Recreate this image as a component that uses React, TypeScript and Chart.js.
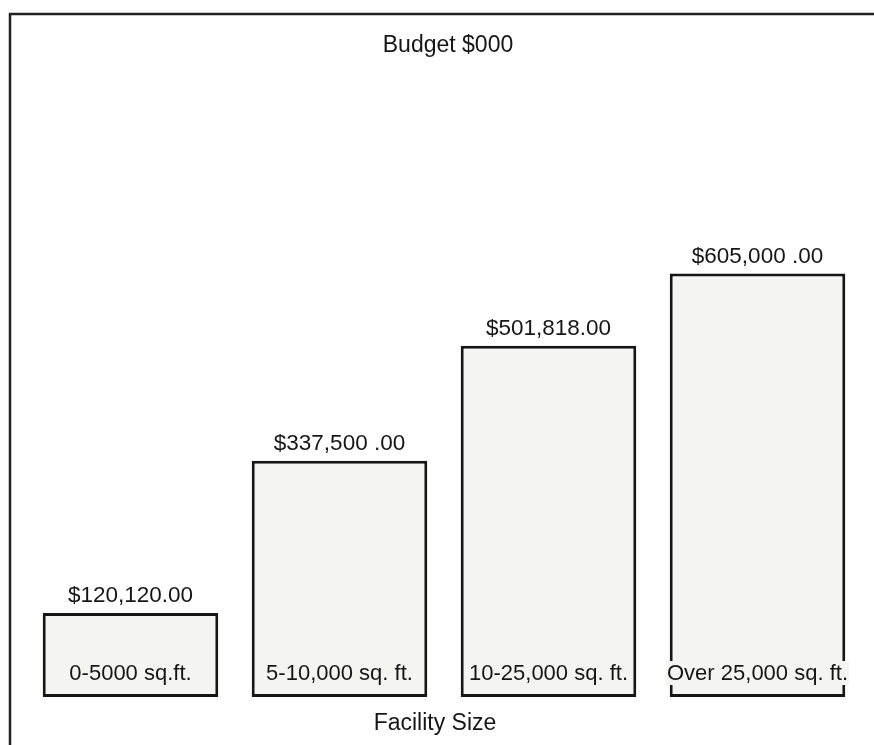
import React, { useEffect, useRef } from "react";
import { Chart, registerables } from "chart.js";

Chart.register(...registerables);

const categories = ["0-5000 sq.ft.", "5-10,000 sq. ft.", "10-25,000 sq. ft.", "Over 25,000 sq. ft."];
const budgetValues = [120120, 337500, 501818, 605000];
const valueLabels = ["$120,120.00", "$337,500 .00", "$501,818.00", "$605,000 .00"];
const chartTitle = "Budget $000";
const axisTitle = "Facility Size";

const FAMILY = '"Liberation Sans", Arial, sans-serif';
const BAR_FILL = "#f4f4f1";
const INK = "#161616";

const decorPlugin = {
  id: "decor",
  beforeDraw(chart: any) {
    const ctx = chart.ctx;
    ctx.save();
    ctx.fillStyle = "#ffffff";
    ctx.fillRect(0, 0, chart.width, chart.height);
    ctx.strokeStyle = "#222";
    ctx.lineWidth = 2.5;
    ctx.beginPath();
    ctx.moveTo(10, chart.height);
    ctx.lineTo(10, 14);
    ctx.lineTo(chart.width, 14);
    ctx.stroke();
    ctx.restore();
  },
  afterDatasetsDraw(chart: any) {
    const ctx = chart.ctx;
    const meta = chart.getDatasetMeta(0);
    ctx.save();
    ctx.fillStyle = INK;
    ctx.textAlign = "center";
    ctx.textBaseline = "alphabetic";
    meta.data.forEach((bar: any, i: number) => {
      ctx.font = `22.5px ${FAMILY}`;
      ctx.fillStyle = INK;
      ctx.fillText(valueLabels[i], bar.x, bar.y - 11);
      ctx.font = `22px ${FAMILY}`;
      const label = chart.data.labels[i];
      const w = ctx.measureText(label).width;
      const baseY = chart.chartArea.bottom - 17;
      ctx.fillStyle = BAR_FILL;
      ctx.fillRect(bar.x - w / 2 - 1, baseY - 19, w + 2, 24);
      ctx.fillStyle = INK;
      ctx.fillText(label, bar.x, baseY);
    });
    ctx.font = `23px ${FAMILY}`;
    ctx.fillText(chartTitle, 448, 52);
    ctx.fillText(axisTitle, 435, 730);
    ctx.restore();
  },
};

export default function App() {
  const ref = useRef<HTMLCanvasElement | null>(null);
  useEffect(() => {
    document.body.style.margin = "0";
    const chart = new Chart(ref.current as HTMLCanvasElement, {
      type: "bar",
      data: {
        labels: categories,
        datasets: [
          {
            data: budgetValues,
            backgroundColor: BAR_FILL,
            borderColor: INK,
            borderWidth: 3,
            borderSkipped: false,
            categoryPercentage: 1,
            barPercentage: 0.84,
          },
        ],
      },
      options: {
        responsive: false,
        animation: false,
        devicePixelRatio: 1,
        layout: { padding: { left: 26, right: 12, top: 102, bottom: 48 } },
        plugins: { legend: { display: false }, tooltip: { enabled: false }, title: { display: false } },
        scales: {
          x: { display: false },
          y: { display: false, min: 0, max: 850000 },
        },
      },
      plugins: [decorPlugin],
    });
    return () => chart.destroy();
  }, []);
  return <canvas ref={ref} width={874} height={745} style={{ display: "block" }} />;
}
